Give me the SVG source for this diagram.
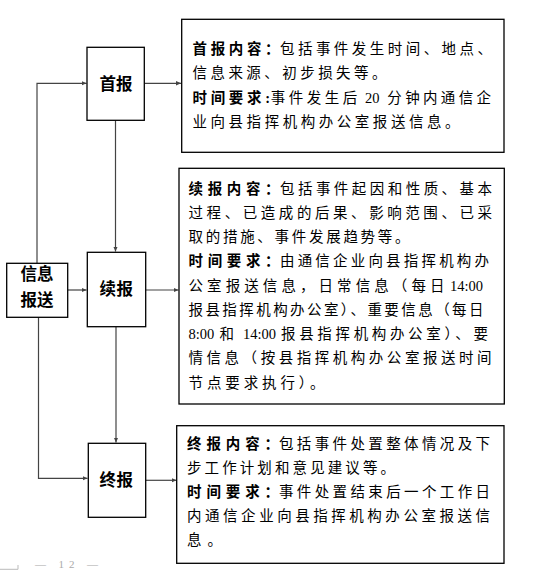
<svg xmlns="http://www.w3.org/2000/svg" width="540" height="571" viewBox="0 0 540 571">
<defs>
<style>
.box{fill:#fff;stroke:#000;stroke-width:1.3}
.t{font-family:"Liberation Serif","Noto Sans CJK SC",serif;font-size:14.5px;fill:#000}
.b{font-weight:bold}
.lbl{font-family:"Liberation Serif","Noto Sans CJK SC",serif;font-size:16.5px;font-weight:bold;fill:#000}
.ln{fill:none;stroke:#444;stroke-width:1.2}
.ft{font-family:"Liberation Serif","Noto Sans CJK SC",serif;font-size:11px;fill:#aaa}
</style>
<marker id="ah" markerWidth="6" markerHeight="6" refX="5" refY="3" orient="auto" markerUnits="userSpaceOnUse">
<path d="M0,0.8 L5,3 L0,5.2 Z" fill="#444"/>
</marker>
</defs>
<rect width="540" height="571" fill="#fff"/>

<g id="connectors">
<path class="ln" d="M37,263 V83.3 H86.5" marker-end="url(#ah)"/>
<path class="ln" d="M38.5,317.3 V478.3 H87.5" marker-end="url(#ah)"/>
<path class="ln" d="M67.7,290 H86.5" marker-end="url(#ah)"/>
<path class="ln" d="M115.5,120.3 V251.5" marker-end="url(#ah)"/>
<path class="ln" d="M116,326.7 V442.5" marker-end="url(#ah)"/>
<path class="ln" d="M144.3,83.3 H181" marker-end="url(#ah)"/>
<path class="ln" d="M145.7,290 H178.5" marker-end="url(#ah)"/>
<path class="ln" d="M145.7,480.3 H176.5" marker-end="url(#ah)"/>
</g>

<g id="xinxi">
<rect class="box" x="6.7" y="263.3" width="61" height="54"/>
<text class="lbl" x="20.5" y="280" textLength="33" lengthAdjust="spacing">信息</text>
<text class="lbl" x="20.5" y="305.5" textLength="33" lengthAdjust="spacing">报送</text>
</g>

<g id="shoubao">
<rect class="box" x="87" y="47.3" width="57.3" height="73"/>
<text class="lbl" x="99.5" y="89.5" textLength="33" lengthAdjust="spacing">首报</text>
</g>

<g id="xubao">
<rect class="box" x="87.3" y="252.3" width="58.4" height="74.4"/>
<text class="lbl" x="99.5" y="295" textLength="33.5" lengthAdjust="spacing">续报</text>
</g>

<g id="zhongbao">
<rect class="box" x="88.3" y="443.3" width="57.4" height="74"/>
<text class="lbl" x="99.5" y="485.5" textLength="33.5" lengthAdjust="spacing">终报</text>
</g>

<g id="shoubao-detail">
<rect class="box" x="181.7" y="19.3" width="322.3" height="133"/>
<text class="t b" x="192.5" y="53.5" textLength="87" lengthAdjust="spacing">首报内容：</text>
<text class="t" x="280" y="53.5" textLength="212" lengthAdjust="spacing">包括事件发生时间、地点、</text>
<text class="t" x="192.5" y="78" textLength="194" lengthAdjust="spacing">信息来源、初步损失等。</text>
<text class="t b" x="192.5" y="102.5" textLength="77.5" lengthAdjust="spacing">时间要求:</text>
<text class="t" x="270.7" y="102.5" textLength="86.5" lengthAdjust="spacing">事件发生后</text>
<text class="t" x="365" y="102.5">20</text>
<text class="t" x="387.3" y="102.5" textLength="103.7" lengthAdjust="spacing">分钟内通信企</text>
<text class="t" x="192.5" y="127" textLength="267" lengthAdjust="spacing">业向县指挥机构办公室报送信息。</text>
</g>

<g id="xubao-detail">
<rect class="box" x="179" y="168.3" width="325.3" height="235.7"/>
<text class="t b" x="188.5" y="193.5" textLength="91" lengthAdjust="spacing">续报内容：</text>
<text class="t" x="280" y="193.5" textLength="212" lengthAdjust="spacing">包括事件起因和性质、基本</text>
<text class="t" x="188.5" y="217.75" textLength="303.5" lengthAdjust="spacing">过程、已造成的后果、影响范围、已采</text>
<text class="t" x="188.5" y="242" textLength="221" lengthAdjust="spacing">取的措施、事件发展趋势等。</text>
<text class="t b" x="188.5" y="266.25" textLength="91" lengthAdjust="spacing">时间要求：</text>
<text class="t" x="280" y="266.25" textLength="209" lengthAdjust="spacing">由通信企业向县指挥机构办</text>
<text class="t" x="188.5" y="290.5" textLength="256" lengthAdjust="spacing">公室报送信息，日常信息（每日</text>
<text class="t" x="450" y="290.5">14:00</text>
<text class="t" x="188.5" y="314.75" textLength="295" lengthAdjust="spacing">报县指挥机构办公室）、重要信息（每日</text>
<text class="t" x="188.5" y="339">8:00</text>
<text class="t" x="219.5" y="339">和</text>
<text class="t" x="243" y="339">14:00</text>
<text class="t" x="281" y="339" textLength="207" lengthAdjust="spacing">报县指挥机构办公室）、要</text>
<text class="t" x="188.5" y="363.25" textLength="303" lengthAdjust="spacing">情信息（按县指挥机构办公室报送时间</text>
<text class="t" x="188.5" y="387.5" textLength="136" lengthAdjust="spacing">节点要求执行）。</text>
</g>

<g id="zhongbao-detail">
<rect class="box" x="176.7" y="425.7" width="327.3" height="137.6"/>
<text class="t b" x="187" y="448.5" textLength="92" lengthAdjust="spacing">终报内容：</text>
<text class="t" x="279" y="448.5" textLength="211" lengthAdjust="spacing">包括事件处置整体情况及下</text>
<text class="t" x="187" y="472.7" textLength="208" lengthAdjust="spacing">步工作计划和意见建议等。</text>
<text class="t b" x="187" y="496.9" textLength="92" lengthAdjust="spacing">时间要求：</text>
<text class="t" x="279" y="496.9" textLength="211" lengthAdjust="spacing">事件处置结束后一个工作日</text>
<text class="t" x="187" y="521.1" textLength="303" lengthAdjust="spacing">内通信企业向县指挥机构办公室报送信</text>
<text class="t" x="187" y="545.3" textLength="35" lengthAdjust="spacing">息。</text>
</g>

<g id="footer">
<path d="M0,569.3 H18 V565" fill="none" stroke="#bbb" stroke-width="1"/>
<text class="ft" x="35" y="567.5" textLength="63" lengthAdjust="spacing">— 12 —</text>
</g>
</svg>
